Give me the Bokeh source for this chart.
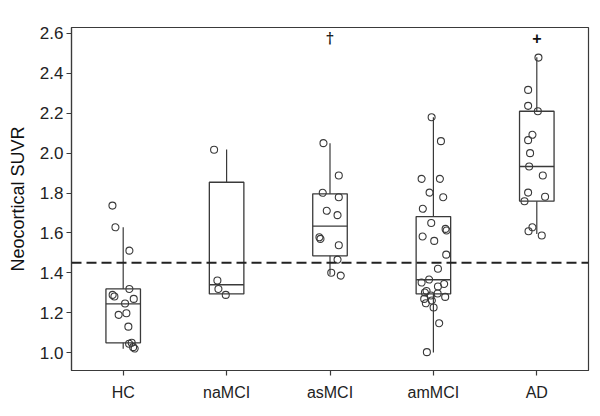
from bokeh.plotting import figure
from bokeh.models import Range1d, FixedTicker, Span, Label
from bokeh.embed import file_html
from bokeh.resources import INLINE

# ---- data ----
groups = ["HC", "naMCI", "asMCI", "amMCI", "AD"]

# box statistics per group
q1 = [1.049, 1.294, 1.485, 1.294, 1.759]
med = [1.244, 1.340, 1.634, 1.365, 1.933]
q3 = [1.319, 1.854, 1.796, 1.682, 2.210]
wlo = [1.019, 1.294, 1.390, 1.000, 1.595]
whi = [1.628, 2.018, 2.050, 2.180, 2.481]

# individual subject values
hc_vals = [1.737, 1.628, 1.511, 1.319, 1.289, 1.281, 1.269, 1.246, 1.189, 1.197,
           1.130, 1.044, 1.049, 1.027, 1.020]
hc_jit = [-0.104, -0.075, 0.060, 0.060, -0.102, -0.085, 0.102, 0.018, -0.044, 0.031,
          0.050, 0.057, 0.082, 0.096, 0.111]

na_vals = [2.017, 1.361, 1.319, 1.289]
na_jit = [-0.121, -0.089, -0.079, -0.008]

as_vals = [2.050, 1.888, 1.801, 1.779, 1.711, 1.689, 1.578, 1.570, 1.538, 1.466,
           1.400, 1.386]
as_jit = [-0.063, 0.085, -0.070, 0.085, -0.031, 0.073, -0.102, -0.092, 0.085, 0.073,
          0.012, 0.104]

am_vals = [2.180, 2.060, 1.871, 1.871, 1.802, 1.779, 1.721, 1.650, 1.620, 1.612,
           1.582, 1.560, 1.491, 1.420, 1.366, 1.351, 1.344, 1.331, 1.309, 1.301,
           1.296, 1.286, 1.269, 1.279, 1.261, 1.247, 1.226, 1.147, 1.002]
am_jit = [-0.017, 0.073, -0.114, 0.063, -0.037, 0.095, -0.102, -0.021, 0.118, 0.128,
          -0.104, 0.008, 0.124, 0.044, -0.041, -0.114, 0.104, 0.044, -0.066, -0.082,
          0.041, -0.024, -0.089, 0.114, -0.015, -0.073, 0.002, 0.056, -0.063]

ad_vals = [2.479, 2.317, 2.237, 2.210, 2.092, 2.065, 2.000, 1.933, 1.888, 1.802,
           1.781, 1.759, 1.628, 1.608, 1.587]
ad_jit = [0.016, -0.084, -0.084, 0.010, -0.042, -0.084, -0.065, -0.074, 0.058, -0.084,
          0.080, -0.119, -0.042, -0.080, 0.048]

threshold = 1.45
y_ticks = [1.0, 1.2, 1.4, 1.6, 1.8, 2.0, 2.2, 2.4, 2.6]
markers = [(3, "\u2020"), (5, "+")]  # (group position, symbol)
marker_y = 2.575

# ---- figure ----
FONT = "Liberation Sans"
COL = "#3a3a3a"

p = figure(frame_width=517, frame_height=343,
           min_border_left=71, min_border_right=12, min_border_top=27, min_border_bottom=46,
           x_range=Range1d(0.5, 5.5), y_range=Range1d(0.91, 2.63),
           output_backend="svg", toolbar_location=None)
p.xgrid.visible = False
p.ygrid.visible = False
p.outline_line_color = COL
p.outline_line_width = 1.2
p.background_fill_color = "white"
p.border_fill_color = "white"

pos = list(range(1, len(groups) + 1))
hw = 0.167

# whiskers
p.segment(x0=pos, y0=q3, x1=pos, y1=whi, line_color=COL, line_width=1.2)
p.segment(x0=pos, y0=wlo, x1=pos, y1=q1, line_color=COL, line_width=1.2)
# boxes
p.quad(left=[x - hw for x in pos], right=[x + hw for x in pos], bottom=q1, top=q3,
       fill_color=None, line_color=COL, line_width=1.3)
# medians
p.segment(x0=[x - hw for x in pos], y0=med, x1=[x + hw for x in pos], y1=med,
          line_color=COL, line_width=1.3)

# threshold line
p.add_layout(Span(location=threshold, dimension="width", line_color="#222222",
                  line_width=2, line_dash="10 5"))

# points
for i, (vals, jit) in enumerate([(hc_vals, hc_jit), (na_vals, na_jit), (as_vals, as_jit),
                                  (am_vals, am_jit), (ad_vals, ad_jit)]):
    xs = [pos[i] + j for j in jit]
    p.scatter(xs, vals, size=7, marker="circle", fill_color=None,
              line_color=COL, line_width=1.1)

# significance markers
for gx, sym in markers:
    p.add_layout(Label(x=gx, y=marker_y, text=sym, text_align="center",
                       text_baseline="middle",
                       text_font="DejaVu Serif" if sym != "+" else FONT,
                       text_font_size="16px" if sym == "+" else "14px",
                       text_font_style="bold", text_color="#111111"))

# axes
p.xaxis.ticker = FixedTicker(ticks=pos)
p.xaxis.major_label_overrides = {k: g for k, g in zip(pos, groups)}
p.yaxis.ticker = FixedTicker(ticks=y_ticks)
p.yaxis.major_label_overrides = {t: f"{t:.1f}" for t in y_ticks}
p.yaxis.axis_label = "Neocortical SUVR"

for ax in (p.xaxis, p.yaxis):
    ax.axis_line_color = COL
    ax.axis_line_width = 1.2
    ax.major_tick_line_color = COL
    ax.major_tick_line_width = 1.2
    ax.major_tick_in = 0
    ax.major_tick_out = 5
    ax.minor_tick_line_color = None
    ax.major_label_text_font = FONT
    ax.major_label_text_color = "#222222"

p.xaxis.major_label_text_font_size = "16px"
p.yaxis.major_label_text_font_size = "17px"
p.xaxis.major_label_standoff = 8
p.yaxis.major_label_standoff = 3
p.yaxis.axis_label_text_font = FONT
p.yaxis.axis_label_text_font_size = "18px"
p.yaxis.axis_label_text_font_style = "normal"
p.yaxis.axis_label_text_color = "#111111"
p.yaxis.axis_label_standoff = 9

open("out.html", "w").write(file_html(p, INLINE))
